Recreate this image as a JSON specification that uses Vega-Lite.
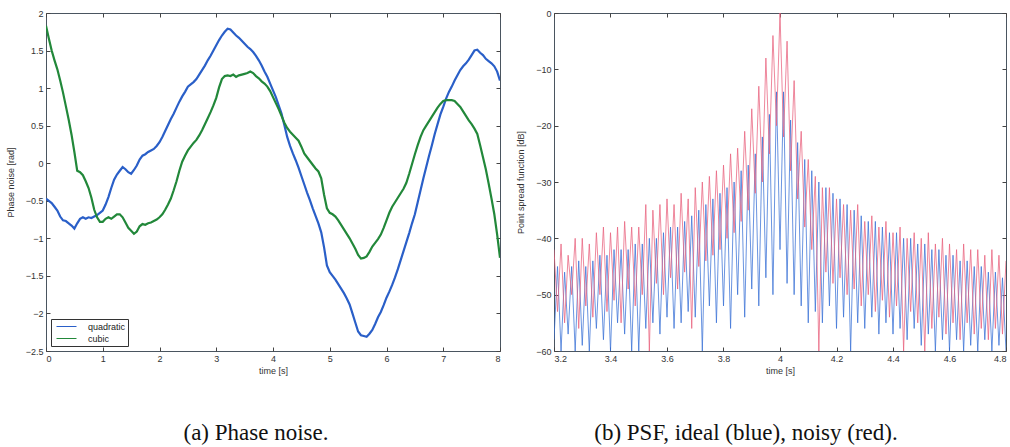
{
  "$schema": "https://vega.github.io/schema/vega-lite/v6.json",
  "padding": {"left": 5, "top": 8, "right": 0, "bottom": 0},
  "spacing": 54,
  "bounds": "flush",
  "background": "white",
  "resolve": {"scale": {"color": "independent"}, "legend": {"color": "independent"}},
  "config": {
    "view": {"stroke": "#4a5560", "strokeWidth": 1},
    "axis": {"domain": false, "grid": false, "tickSize": -4, "tickColor": "#444", "labelFont": "Liberation Sans", "labelFontSize": 9, "labelColor": "#333", "titleFont": "Liberation Sans", "titleFontSize": 9, "titleFontWeight": "normal", "titleColor": "#333", "labelPadding": 7, "titlePadding": 3},
    "axisLeft": {"titlePadding": 10},
    "title": {"font": "Liberation Serif", "fontSize": 23, "fontWeight": "normal", "color": "#111", "orient": "bottom", "anchor": "middle", "offset": 47}
  },
  "hconcat": [
    {
      "width": 454,
      "height": 338,
      "title": {"text": "(a) Phase noise.", "dx": -17},
      "data": {"values": [
        {"t":0.00,"quadratic":-0.47,"cubic":1.83},{"t":0.05,"quadratic":-0.50,"cubic":1.66},{"t":0.10,"quadratic":-0.53,"cubic":1.50},{"t":0.15,"quadratic":-0.58,"cubic":1.37},{"t":0.20,"quadratic":-0.63,"cubic":1.25},{"t":0.25,"quadratic":-0.71,"cubic":1.10},{"t":0.30,"quadratic":-0.76,"cubic":0.94},{"t":0.35,"quadratic":-0.77,"cubic":0.76},{"t":0.40,"quadratic":-0.80,"cubic":0.58},{"t":0.45,"quadratic":-0.83,"cubic":0.38},
        {"t":0.50,"quadratic":-0.87,"cubic":0.15},{"t":0.55,"quadratic":-0.80,"cubic":-0.10},{"t":0.60,"quadratic":-0.74,"cubic":-0.12},{"t":0.65,"quadratic":-0.72,"cubic":-0.16},{"t":0.70,"quadratic":-0.74,"cubic":-0.24},{"t":0.75,"quadratic":-0.72,"cubic":-0.33},{"t":0.80,"quadratic":-0.73,"cubic":-0.46},{"t":0.85,"quadratic":-0.71,"cubic":-0.62},{"t":0.90,"quadratic":-0.69,"cubic":-0.72},{"t":0.95,"quadratic":-0.66,"cubic":-0.78},
        {"t":1.00,"quadratic":-0.63,"cubic":-0.78},{"t":1.05,"quadratic":-0.55,"cubic":-0.74},{"t":1.10,"quadratic":-0.45,"cubic":-0.72},{"t":1.15,"quadratic":-0.33,"cubic":-0.74},{"t":1.20,"quadratic":-0.22,"cubic":-0.71},{"t":1.25,"quadratic":-0.15,"cubic":-0.68},{"t":1.30,"quadratic":-0.10,"cubic":-0.68},{"t":1.35,"quadratic":-0.05,"cubic":-0.72},{"t":1.40,"quadratic":-0.08,"cubic":-0.79},{"t":1.45,"quadratic":-0.12,"cubic":-0.86},
        {"t":1.50,"quadratic":-0.14,"cubic":-0.90},{"t":1.55,"quadratic":-0.09,"cubic":-0.94},{"t":1.60,"quadratic":-0.03,"cubic":-0.91},{"t":1.65,"quadratic":0.05,"cubic":-0.84},{"t":1.70,"quadratic":0.10,"cubic":-0.81},{"t":1.75,"quadratic":0.12,"cubic":-0.82},{"t":1.80,"quadratic":0.15,"cubic":-0.80},{"t":1.85,"quadratic":0.17,"cubic":-0.79},{"t":1.90,"quadratic":0.19,"cubic":-0.77},{"t":1.95,"quadratic":0.23,"cubic":-0.75},
        {"t":2.00,"quadratic":0.28,"cubic":-0.72},{"t":2.05,"quadratic":0.35,"cubic":-0.68},{"t":2.10,"quadratic":0.43,"cubic":-0.62},{"t":2.15,"quadratic":0.51,"cubic":-0.55},{"t":2.20,"quadratic":0.59,"cubic":-0.47},{"t":2.25,"quadratic":0.66,"cubic":-0.36},{"t":2.30,"quadratic":0.74,"cubic":-0.24},{"t":2.35,"quadratic":0.82,"cubic":-0.10},{"t":2.40,"quadratic":0.89,"cubic":0.02},{"t":2.45,"quadratic":0.95,"cubic":0.10},
        {"t":2.50,"quadratic":1.02,"cubic":0.17},{"t":2.55,"quadratic":1.05,"cubic":0.22},{"t":2.60,"quadratic":1.08,"cubic":0.27},{"t":2.65,"quadratic":1.12,"cubic":0.31},{"t":2.70,"quadratic":1.18,"cubic":0.37},{"t":2.75,"quadratic":1.24,"cubic":0.44},{"t":2.80,"quadratic":1.30,"cubic":0.52},{"t":2.85,"quadratic":1.37,"cubic":0.60},{"t":2.90,"quadratic":1.43,"cubic":0.68},{"t":2.95,"quadratic":1.50,"cubic":0.77},
        {"t":3.00,"quadratic":1.57,"cubic":0.87},{"t":3.05,"quadratic":1.64,"cubic":1.01},{"t":3.10,"quadratic":1.70,"cubic":1.12},{"t":3.15,"quadratic":1.75,"cubic":1.16},{"t":3.20,"quadratic":1.79,"cubic":1.17},{"t":3.25,"quadratic":1.78,"cubic":1.16},{"t":3.30,"quadratic":1.74,"cubic":1.18},{"t":3.35,"quadratic":1.70,"cubic":1.15},{"t":3.40,"quadratic":1.67,"cubic":1.17},{"t":3.45,"quadratic":1.63,"cubic":1.18},
        {"t":3.50,"quadratic":1.59,"cubic":1.19},{"t":3.55,"quadratic":1.55,"cubic":1.20},{"t":3.60,"quadratic":1.52,"cubic":1.22},{"t":3.65,"quadratic":1.48,"cubic":1.20},{"t":3.70,"quadratic":1.43,"cubic":1.16},{"t":3.75,"quadratic":1.37,"cubic":1.13},{"t":3.80,"quadratic":1.30,"cubic":1.09},{"t":3.85,"quadratic":1.22,"cubic":1.06},{"t":3.90,"quadratic":1.15,"cubic":1.02},{"t":3.95,"quadratic":1.06,"cubic":0.96},
        {"t":4.00,"quadratic":0.97,"cubic":0.88},{"t":4.05,"quadratic":0.88,"cubic":0.80},{"t":4.10,"quadratic":0.77,"cubic":0.72},{"t":4.15,"quadratic":0.66,"cubic":0.63},{"t":4.20,"quadratic":0.51,"cubic":0.54},{"t":4.25,"quadratic":0.35,"cubic":0.47},{"t":4.30,"quadratic":0.23,"cubic":0.42},{"t":4.35,"quadratic":0.13,"cubic":0.38},{"t":4.40,"quadratic":0.04,"cubic":0.34},{"t":4.45,"quadratic":-0.06,"cubic":0.30},
        {"t":4.50,"quadratic":-0.17,"cubic":0.22},{"t":4.55,"quadratic":-0.28,"cubic":0.13},{"t":4.60,"quadratic":-0.39,"cubic":0.08},{"t":4.65,"quadratic":-0.49,"cubic":0.03},{"t":4.70,"quadratic":-0.60,"cubic":-0.02},{"t":4.75,"quadratic":-0.70,"cubic":-0.07},{"t":4.80,"quadratic":-0.80,"cubic":-0.11},{"t":4.85,"quadratic":-0.92,"cubic":-0.20},{"t":4.90,"quadratic":-1.12,"cubic":-0.42},{"t":4.95,"quadratic":-1.36,"cubic":-0.60},
        {"t":5.00,"quadratic":-1.45,"cubic":-0.66},{"t":5.05,"quadratic":-1.50,"cubic":-0.68},{"t":5.10,"quadratic":-1.55,"cubic":-0.71},{"t":5.15,"quadratic":-1.61,"cubic":-0.76},{"t":5.20,"quadratic":-1.67,"cubic":-0.82},{"t":5.25,"quadratic":-1.73,"cubic":-0.88},{"t":5.30,"quadratic":-1.80,"cubic":-0.94},{"t":5.35,"quadratic":-1.88,"cubic":-1.00},{"t":5.40,"quadratic":-2.00,"cubic":-1.07},{"t":5.45,"quadratic":-2.12,"cubic":-1.14},
        {"t":5.50,"quadratic":-2.24,"cubic":-1.22},{"t":5.55,"quadratic":-2.29,"cubic":-1.27},{"t":5.60,"quadratic":-2.30,"cubic":-1.26},{"t":5.65,"quadratic":-2.31,"cubic":-1.24},{"t":5.70,"quadratic":-2.27,"cubic":-1.18},{"t":5.75,"quadratic":-2.22,"cubic":-1.11},{"t":5.80,"quadratic":-2.14,"cubic":-1.06},{"t":5.85,"quadratic":-2.05,"cubic":-1.01},{"t":5.90,"quadratic":-1.98,"cubic":-0.95},{"t":5.95,"quadratic":-1.89,"cubic":-0.86},
        {"t":6.00,"quadratic":-1.79,"cubic":-0.76},{"t":6.05,"quadratic":-1.71,"cubic":-0.66},{"t":6.10,"quadratic":-1.62,"cubic":-0.58},{"t":6.15,"quadratic":-1.52,"cubic":-0.52},{"t":6.20,"quadratic":-1.41,"cubic":-0.46},{"t":6.25,"quadratic":-1.29,"cubic":-0.40},{"t":6.30,"quadratic":-1.17,"cubic":-0.34},{"t":6.35,"quadratic":-1.05,"cubic":-0.26},{"t":6.40,"quadratic":-0.93,"cubic":-0.14},{"t":6.45,"quadratic":-0.80,"cubic":-0.01},
        {"t":6.50,"quadratic":-0.68,"cubic":0.12},{"t":6.55,"quadratic":-0.52,"cubic":0.24},{"t":6.60,"quadratic":-0.36,"cubic":0.35},{"t":6.65,"quadratic":-0.20,"cubic":0.44},{"t":6.70,"quadratic":-0.05,"cubic":0.50},{"t":6.75,"quadratic":0.10,"cubic":0.56},{"t":6.80,"quadratic":0.24,"cubic":0.62},{"t":6.85,"quadratic":0.39,"cubic":0.68},{"t":6.90,"quadratic":0.52,"cubic":0.74},{"t":6.95,"quadratic":0.65,"cubic":0.79},
        {"t":7.00,"quadratic":0.75,"cubic":0.83},{"t":7.05,"quadratic":0.86,"cubic":0.84},{"t":7.10,"quadratic":0.95,"cubic":0.84},{"t":7.15,"quadratic":1.02,"cubic":0.84},{"t":7.20,"quadratic":1.10,"cubic":0.83},{"t":7.25,"quadratic":1.17,"cubic":0.79},{"t":7.30,"quadratic":1.24,"cubic":0.75},{"t":7.35,"quadratic":1.29,"cubic":0.69},{"t":7.40,"quadratic":1.33,"cubic":0.63},{"t":7.45,"quadratic":1.38,"cubic":0.57},
        {"t":7.50,"quadratic":1.44,"cubic":0.52},{"t":7.55,"quadratic":1.50,"cubic":0.46},{"t":7.60,"quadratic":1.51,"cubic":0.39},{"t":7.65,"quadratic":1.47,"cubic":0.24},{"t":7.70,"quadratic":1.44,"cubic":0.08},{"t":7.75,"quadratic":1.39,"cubic":-0.08},{"t":7.80,"quadratic":1.36,"cubic":-0.27},{"t":7.85,"quadratic":1.33,"cubic":-0.47},{"t":7.90,"quadratic":1.29,"cubic":-0.68},{"t":7.95,"quadratic":1.22,"cubic":-0.95},
        {"t":8.00,"quadratic":1.10,"cubic":-1.26}
      ]},
      "transform": [{"fold": ["quadratic", "cubic"], "as": ["series", "value"]}],
      "layer": [
        {
          "mark": {"type": "line", "strokeWidth": 2.2, "clip": true},
          "encoding": {
            "x": {"field": "t", "type": "quantitative", "scale": {"domain": [0, 8], "nice": false, "zero": false}, "axis": {"orient": "bottom", "title": "time [s]", "values": [0,1,2,3,4,5,6,7,8], "format": "~g"}},
            "y": {"field": "value", "type": "quantitative", "scale": {"domain": [-2.5, 2], "nice": false, "zero": false}, "axis": {"orient": "left", "title": "Phase noise [rad]", "values": [-2.5,-2,-1.5,-1,-0.5,0,0.5,1,1.5,2], "format": "~g"}},
            "color": {"field": "series", "type": "nominal", "scale": {"domain": ["quadratic", "cubic"], "range": ["#2a5fc8", "#22883a"]},
              "legend": {"orient": "bottom-left", "offset": 5, "title": null, "strokeColor": "#333", "fillColor": "white", "padding": 2, "symbolType": "M-2,0L2,0", "symbolSize": 100, "symbolOffset": 8, "symbolStrokeWidth": 1, "labelFontSize": 9, "labelFont": "Liberation Sans", "labelColor": "#222", "labelOffset": 16, "rowPadding": 1, "cornerRadius": 0}}
          }
        },
        {
          "mark": {"type": "point", "opacity": 0},
          "encoding": {
            "x": {"field": "t", "type": "quantitative", "axis": {"orient": "top", "title": null, "labels": false, "values": [0,1,2,3,4,5,6,7,8]}},
            "y": {"field": "value", "type": "quantitative", "axis": {"orient": "right", "title": null, "labels": false, "values": [-2.5,-2,-1.5,-1,-0.5,0,0.5,1,1.5,2]}}
          }
        }
      ],
      "resolve": {"axis": {"x": "independent", "y": "independent"}}
    },
    {
      "width": 452,
      "height": 338,
      "title": {"text": "(b) PSF, ideal (blue), noisy (red).", "dx": -34},
      "data": {"values": [
        {"t":3.2000,"ideal":-58,"noisy":-42},{"t":3.2125,"ideal":-45,"noisy":-53},{"t":3.2250,"ideal":-60,"noisy":-41},{"t":3.2375,"ideal":-46,"noisy":-55},{"t":3.2500,"ideal":-57,"noisy":-43},{"t":3.2625,"ideal":-45,"noisy":-50},{"t":3.2750,"ideal":-60,"noisy":-40},{"t":3.2875,"ideal":-44,"noisy":-56},
        {"t":3.3000,"ideal":-59,"noisy":-40},{"t":3.3125,"ideal":-45,"noisy":-52},{"t":3.3250,"ideal":-60,"noisy":-41},{"t":3.3375,"ideal":-44,"noisy":-54},{"t":3.3500,"ideal":-56,"noisy":-39},{"t":3.3625,"ideal":-43,"noisy":-50},{"t":3.3750,"ideal":-58,"noisy":-38},{"t":3.3875,"ideal":-43,"noisy":-53},
        {"t":3.4000,"ideal":-60,"noisy":-39},{"t":3.4125,"ideal":-42,"noisy":-51},{"t":3.4250,"ideal":-55,"noisy":-38},{"t":3.4375,"ideal":-42,"noisy":-55},{"t":3.4500,"ideal":-57,"noisy":-37},{"t":3.4625,"ideal":-42,"noisy":-49},{"t":3.4750,"ideal":-60,"noisy":-38},{"t":3.4875,"ideal":-41,"noisy":-52},
        {"t":3.5000,"ideal":-60,"noisy":-38},{"t":3.5125,"ideal":-41,"noisy":-50},{"t":3.5250,"ideal":-56,"noisy":-34},{"t":3.5375,"ideal":-40,"noisy":-60},{"t":3.5500,"ideal":-55,"noisy":-35},{"t":3.5625,"ideal":-40,"noisy":-48},{"t":3.5750,"ideal":-57,"noisy":-34},{"t":3.5875,"ideal":-39,"noisy":-50},
        {"t":3.6000,"ideal":-54,"noisy":-33},{"t":3.6125,"ideal":-38,"noisy":-47},{"t":3.6250,"ideal":-56,"noisy":-34},{"t":3.6375,"ideal":-38,"noisy":-49},{"t":3.6500,"ideal":-55,"noisy":-32},{"t":3.6625,"ideal":-37,"noisy":-46},{"t":3.6750,"ideal":-53,"noisy":-33},{"t":3.6875,"ideal":-36,"noisy":-56},
        {"t":3.7000,"ideal":-54,"noisy":-31},{"t":3.7125,"ideal":-35,"noisy":-45},{"t":3.7250,"ideal":-60,"noisy":-30},{"t":3.7375,"ideal":-34,"noisy":-44},{"t":3.7500,"ideal":-52,"noisy":-29},{"t":3.7625,"ideal":-33,"noisy":-43},{"t":3.7750,"ideal":-55,"noisy":-28},{"t":3.7875,"ideal":-32,"noisy":-42},
        {"t":3.8000,"ideal":-52,"noisy":-27},{"t":3.8125,"ideal":-31,"noisy":-40},{"t":3.8250,"ideal":-56,"noisy":-25},{"t":3.8375,"ideal":-30,"noisy":-39},{"t":3.8500,"ideal":-50,"noisy":-24},{"t":3.8625,"ideal":-28,"noisy":-37},{"t":3.8750,"ideal":-54,"noisy":-21},{"t":3.8875,"ideal":-27,"noisy":-35},
        {"t":3.9000,"ideal":-49,"noisy":-17},{"t":3.9125,"ideal":-25,"noisy":-32},{"t":3.9250,"ideal":-52,"noisy":-13},{"t":3.9375,"ideal":-22,"noisy":-30},{"t":3.9500,"ideal":-47,"noisy":-8},{"t":3.9625,"ideal":-18,"noisy":-25},{"t":3.9750,"ideal":-50,"noisy":-4},{"t":3.9875,"ideal":-14,"noisy":-20},
        {"t":4.0000,"ideal":-42,"noisy":0},{"t":4.0125,"ideal":-14,"noisy":-22},{"t":4.0250,"ideal":-48,"noisy":-5},{"t":4.0375,"ideal":-19,"noisy":-28},{"t":4.0500,"ideal":-50,"noisy":-12},{"t":4.0625,"ideal":-23,"noisy":-33},{"t":4.0750,"ideal":-52,"noisy":-21},{"t":4.0875,"ideal":-26,"noisy":-38},
        {"t":4.1000,"ideal":-55,"noisy":-26},{"t":4.1125,"ideal":-28,"noisy":-42},{"t":4.1250,"ideal":-53,"noisy":-29},{"t":4.1375,"ideal":-30,"noisy":-60},{"t":4.1500,"ideal":-55,"noisy":-31},{"t":4.1625,"ideal":-31,"noisy":-46},{"t":4.1750,"ideal":-52,"noisy":-31},{"t":4.1875,"ideal":-32,"noisy":-48},
        {"t":4.2000,"ideal":-56,"noisy":-33},{"t":4.2125,"ideal":-33,"noisy":-47},{"t":4.2250,"ideal":-54,"noisy":-34},{"t":4.2375,"ideal":-34,"noisy":-50},{"t":4.2500,"ideal":-60,"noisy":-35},{"t":4.2625,"ideal":-35,"noisy":-49},{"t":4.2750,"ideal":-55,"noisy":-34},{"t":4.2875,"ideal":-36,"noisy":-52},
        {"t":4.3000,"ideal":-56,"noisy":-37},{"t":4.3125,"ideal":-37,"noisy":-50},{"t":4.3250,"ideal":-54,"noisy":-36},{"t":4.3375,"ideal":-37,"noisy":-53},{"t":4.3500,"ideal":-57,"noisy":-38},{"t":4.3625,"ideal":-38,"noisy":-51},{"t":4.3750,"ideal":-55,"noisy":-37},{"t":4.3875,"ideal":-39,"noisy":-54},
        {"t":4.4000,"ideal":-57,"noisy":-39},{"t":4.4125,"ideal":-39,"noisy":-52},{"t":4.4250,"ideal":-56,"noisy":-38},{"t":4.4375,"ideal":-40,"noisy":-60},{"t":4.4500,"ideal":-58,"noisy":-40},{"t":4.4625,"ideal":-40,"noisy":-53},{"t":4.4750,"ideal":-56,"noisy":-39},{"t":4.4875,"ideal":-41,"noisy":-55},
        {"t":4.5000,"ideal":-59,"noisy":-40},{"t":4.5125,"ideal":-41,"noisy":-60},{"t":4.5250,"ideal":-57,"noisy":-39},{"t":4.5375,"ideal":-42,"noisy":-56},{"t":4.5500,"ideal":-60,"noisy":-41},{"t":4.5625,"ideal":-42,"noisy":-54},{"t":4.5750,"ideal":-58,"noisy":-40},{"t":4.5875,"ideal":-43,"noisy":-57},
        {"t":4.6000,"ideal":-60,"noisy":-41},{"t":4.6125,"ideal":-43,"noisy":-55},{"t":4.6250,"ideal":-58,"noisy":-42},{"t":4.6375,"ideal":-44,"noisy":-58},{"t":4.6500,"ideal":-60,"noisy":-41},{"t":4.6625,"ideal":-44,"noisy":-55},{"t":4.6750,"ideal":-59,"noisy":-42},{"t":4.6875,"ideal":-45,"noisy":-57},
        {"t":4.7000,"ideal":-60,"noisy":-42},{"t":4.7125,"ideal":-45,"noisy":-56},{"t":4.7250,"ideal":-58,"noisy":-43},{"t":4.7375,"ideal":-46,"noisy":-58},{"t":4.7500,"ideal":-60,"noisy":-42},{"t":4.7625,"ideal":-46,"noisy":-56},{"t":4.7750,"ideal":-59,"noisy":-43},{"t":4.7875,"ideal":-47,"noisy":-57},
        {"t":4.8000,"ideal":-60,"noisy":-44}
      ]},
      "transform": [{"fold": ["ideal", "noisy"], "as": ["series", "value"]}],
      "layer": [
        {
          "mark": {"type": "line", "strokeWidth": 0.9, "opacity": 0.85, "clip": true},
          "encoding": {
            "x": {"field": "t", "type": "quantitative", "scale": {"domain": [3.2, 4.8], "nice": false, "zero": false}, "axis": {"orient": "bottom", "title": "time [s]", "values": [3.2,3.4,3.6,3.8,4,4.2,4.4,4.6,4.8], "format": "~g"}},
            "y": {"field": "value", "type": "quantitative", "scale": {"domain": [-60, 0], "nice": false, "zero": false}, "axis": {"orient": "left", "title": "Point spread function [dB]", "values": [-60,-50,-40,-30,-20,-10,0], "format": "d"}},
            "color": {"field": "series", "type": "nominal", "scale": {"domain": ["ideal", "noisy"], "range": ["#3b72d6", "#e8627e"]}, "legend": null}
          }
        },
        {
          "mark": {"type": "point", "opacity": 0},
          "encoding": {
            "x": {"field": "t", "type": "quantitative", "axis": {"orient": "top", "title": null, "labels": false, "values": [3.2,3.4,3.6,3.8,4,4.2,4.4,4.6,4.8]}},
            "y": {"field": "value", "type": "quantitative", "axis": {"orient": "right", "title": null, "labels": false, "values": [-60,-50,-40,-30,-20,-10,0]}}
          }
        }
      ],
      "resolve": {"axis": {"x": "independent", "y": "independent"}}
    }
  ]
}
